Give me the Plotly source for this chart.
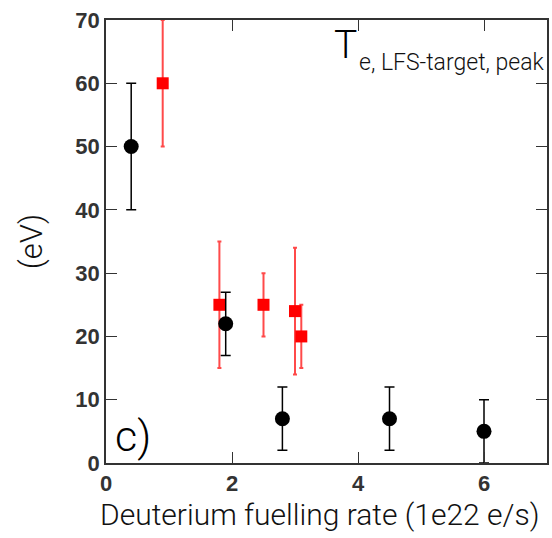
import plotly.graph_objects as go

# Black series (circles)
black_x = [0.4, 1.9, 2.8, 4.5, 6.0]
black_y = [50, 22, 7, 7, 5]
black_err = [10, 5, 5, 5, 5]

# Red series (squares)
red_x = [0.9, 1.8, 2.5, 3.0, 3.1]
red_y = [60, 25, 25, 24, 20]
red_err_plus = [10, 10, 5, 10, 5]
red_err_minus = [10, 10, 5, 10, 5]

x_ticks = [0, 2, 4, 6]
y_ticks = [0, 10, 20, 30, 40, 50, 60, 70]

TITLE_FONT = "Roboto"

fig = go.Figure()
fig.add_trace(go.Scatter(
    x=red_x, y=red_y, mode="markers",
    marker=dict(symbol="square", size=12, color="#ff0000"),
    error_y=dict(type="data", array=red_err_plus, arrayminus=red_err_minus,
                 color="#ff4a4a", thickness=2, width=2),
    showlegend=False))
fig.add_trace(go.Scatter(
    x=black_x, y=black_y, mode="markers",
    marker=dict(symbol="circle", size=15, color="#000000"),
    error_y=dict(type="data", array=black_err, color="#000000", thickness=1.5, width=5),
    showlegend=False))

axis_common = dict(showline=True, mirror="ticks", linecolor="#333333", linewidth=1.5,
                   ticks="inside", ticklen=11, tickwidth=1.2, tickcolor="#333333",
                   showgrid=False, zeroline=False,
                   tickfont=dict(family="Liberation Sans", size=22, color="#333333", weight="bold"))

fig.update_xaxes(range=[0, 7], tickvals=x_ticks, **axis_common)
fig.update_yaxes(range=[0, 70], tickvals=y_ticks,
                 title=dict(text="(eV)", standoff=24,
                            font=dict(family=TITLE_FONT, size=31, color="#111111", weight=300)),
                 **axis_common)

# x-axis title (as annotation so it can sit slightly left of the plot centre, as in the reference)
fig.add_annotation(xref="paper", yref="paper", x=0.485, y=-0.117, xanchor="center", yanchor="middle",
                   text="Deuterium fuelling rate (1e22 e/s)", showarrow=False,
                   font=dict(family=TITLE_FONT, size=30, color="#111111", weight=300))
fig.add_annotation(xref="paper", yref="paper", x=0.512, y=1.0, xanchor="left", yanchor="top",
                   text="T", showarrow=False,
                   font=dict(family=TITLE_FONT, size=39, color="#000000", weight=300))
fig.add_annotation(xref="paper", yref="paper", x=1.0, y=0.905, xanchor="right", yanchor="middle",
                   text="e, LFS-target, peak", showarrow=False,
                   font=dict(family=TITLE_FONT, size=23, color="#111111", weight=300))
fig.add_annotation(xref="paper", yref="paper", x=0.015, y=0.0, xanchor="left", yanchor="bottom",
                   text="c)", showarrow=False,
                   font=dict(family=TITLE_FONT, size=43, color="#000000", weight=300))

fig.update_layout(width=552, height=538, margin=dict(l=106, r=3, t=20, b=75),
                  plot_bgcolor="white", paper_bgcolor="white")
fig.write_html("out.html", config={"displayModeBar": False},
               post_script="document.body.style.margin='0';document.body.style.padding='0';")
